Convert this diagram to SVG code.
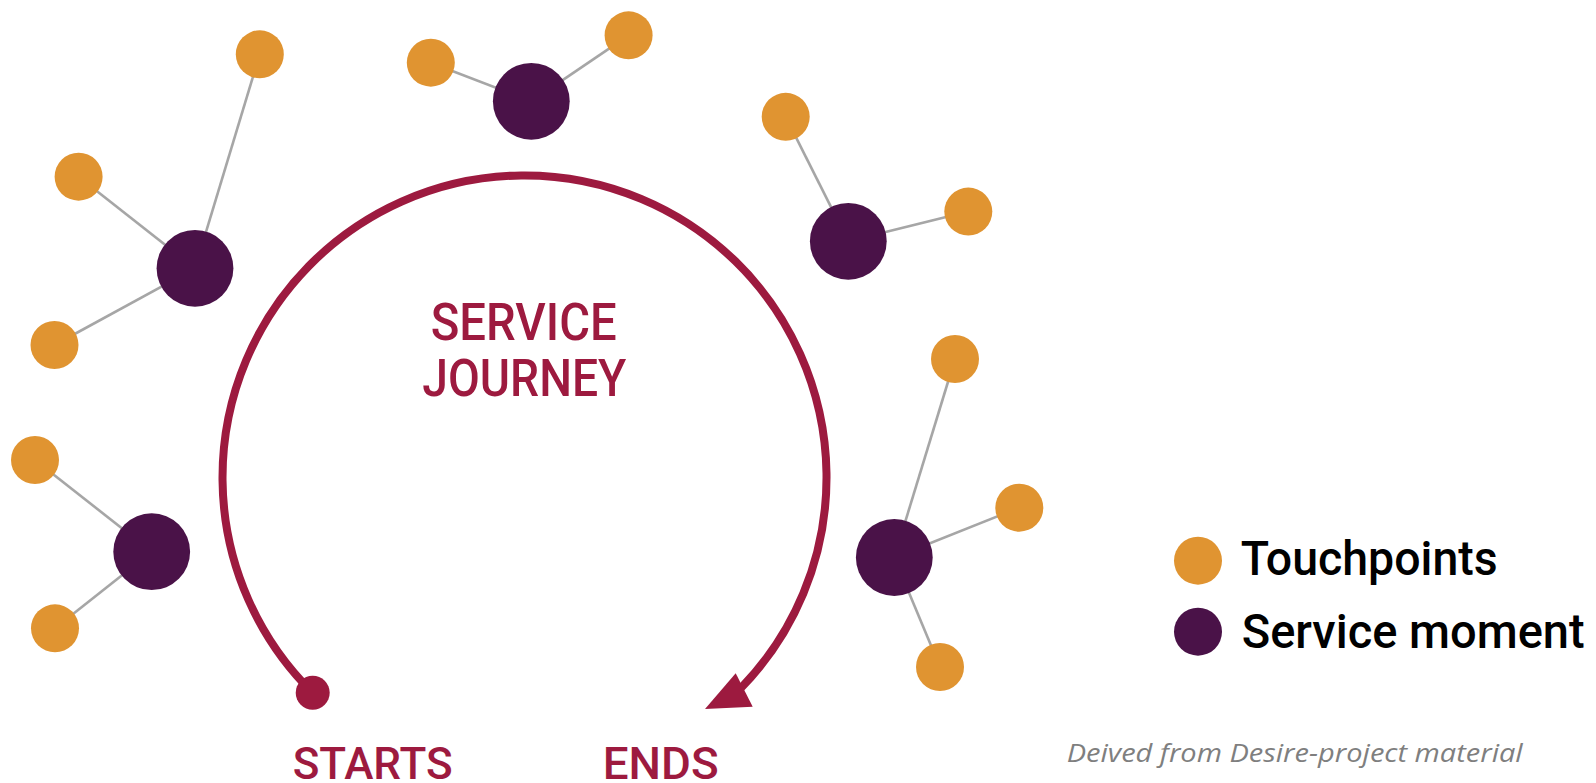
<svg xmlns="http://www.w3.org/2000/svg" width="1596" height="783" viewBox="0 0 1596 783">
<style>
.tp{fill:#E09431}
.sm{fill:#4A1248}
.ln{stroke:#A6A6A6;stroke-width:2.6;fill:none}
.jt{font-family:Roboto,"DejaVu Sans",sans-serif;font-weight:500;fill:#9D1A3F}
.lg{font-family:Roboto,"DejaVu Sans",sans-serif;font-weight:500;fill:#000}
.cap{font-family:"Open Sans","Liberation Sans",sans-serif;font-style:italic;fill:#7F7F7F}
</style>
<rect width="1596" height="783" fill="#fff"/>
<g id="connectors">
<line class="ln" x1="195" y1="268.3" x2="259.8" y2="54.3"/>
<line class="ln" x1="195" y1="268.3" x2="78.6" y2="176.7"/>
<line class="ln" x1="195" y1="268.3" x2="54.5" y2="345"/>
<line class="ln" x1="531.3" y1="101.3" x2="430.8" y2="62.7"/>
<line class="ln" x1="531.3" y1="101.3" x2="628.6" y2="35.3"/>
<line class="ln" x1="848.3" y1="241.3" x2="785.7" y2="116.8"/>
<line class="ln" x1="848.3" y1="241.3" x2="968.3" y2="211.6"/>
<line class="ln" x1="894.3" y1="557.5" x2="955" y2="359"/>
<line class="ln" x1="894.3" y1="557.5" x2="1019.3" y2="507.7"/>
<line class="ln" x1="894.3" y1="557.5" x2="940" y2="667"/>
<line class="ln" x1="151.7" y1="551.7" x2="35" y2="460"/>
<line class="ln" x1="151.7" y1="551.7" x2="55" y2="628.3"/>
</g>
<g id="journey">
<path d="M 312.7 692.7 A 302 302 0 1 1 741.2 687.8" fill="none" stroke="#9D1A3F" stroke-width="8"/>
<circle cx="312.7" cy="692.7" r="17" fill="#9D1A3F"/>
<polygon points="735.7,673.3 705,709 752.7,706.7" fill="#9D1A3F"/>
<text class="jt" x="523.7" y="340" font-size="52" text-anchor="middle" textLength="186" lengthAdjust="spacingAndGlyphs">SERVICE</text>
<text class="jt" x="524.3" y="396" font-size="52" text-anchor="middle" textLength="204" lengthAdjust="spacingAndGlyphs">JOURNEY</text>
</g>
<g id="node-group1">
<circle class="tp" cx="259.8" cy="54.3" r="24"/>
<circle class="tp" cx="78.6" cy="176.7" r="24"/>
<circle class="tp" cx="54.5" cy="345" r="24"/>
<circle class="sm" cx="195" cy="268.3" r="38.4"/>
</g>
<g id="node-group2">
<circle class="tp" cx="430.8" cy="62.7" r="24"/>
<circle class="tp" cx="628.6" cy="35.3" r="24"/>
<circle class="sm" cx="531.3" cy="101.3" r="38.4"/>
</g>
<g id="node-group3">
<circle class="tp" cx="785.7" cy="116.8" r="24"/>
<circle class="tp" cx="968.3" cy="211.6" r="24"/>
<circle class="sm" cx="848.3" cy="241.3" r="38.4"/>
</g>
<g id="node-group4">
<circle class="tp" cx="955" cy="359" r="24"/>
<circle class="tp" cx="1019.3" cy="507.7" r="24"/>
<circle class="tp" cx="940" cy="667" r="24"/>
<circle class="sm" cx="894.3" cy="557.5" r="38.4"/>
</g>
<g id="node-group5">
<circle class="tp" cx="35" cy="460" r="24"/>
<circle class="tp" cx="55" cy="628.3" r="24"/>
<circle class="sm" cx="151.7" cy="551.7" r="38.4"/>
</g>
<g id="label-starts">
<text class="jt" x="292.7" y="779" font-size="45" textLength="160" lengthAdjust="spacingAndGlyphs">STARTS</text>
</g>
<g id="label-ends">
<text class="jt" x="602.7" y="779" font-size="45" textLength="116" lengthAdjust="spacingAndGlyphs">ENDS</text>
</g>
<g id="legend">
<circle class="tp" cx="1198" cy="560.7" r="24"/>
<text class="lg" x="1240.7" y="575" font-size="48" textLength="257" lengthAdjust="spacingAndGlyphs">Touchpoints</text>
<circle class="sm" cx="1198" cy="631.7" r="24"/>
<text class="lg" x="1241.7" y="648" font-size="48" textLength="343" lengthAdjust="spacingAndGlyphs">Service moment</text>
</g>
<g id="caption">
<text class="cap" x="1066.7" y="761.5" font-size="26" textLength="456" lengthAdjust="spacingAndGlyphs">Deived from Desire-project material</text>
</g>
</svg>
